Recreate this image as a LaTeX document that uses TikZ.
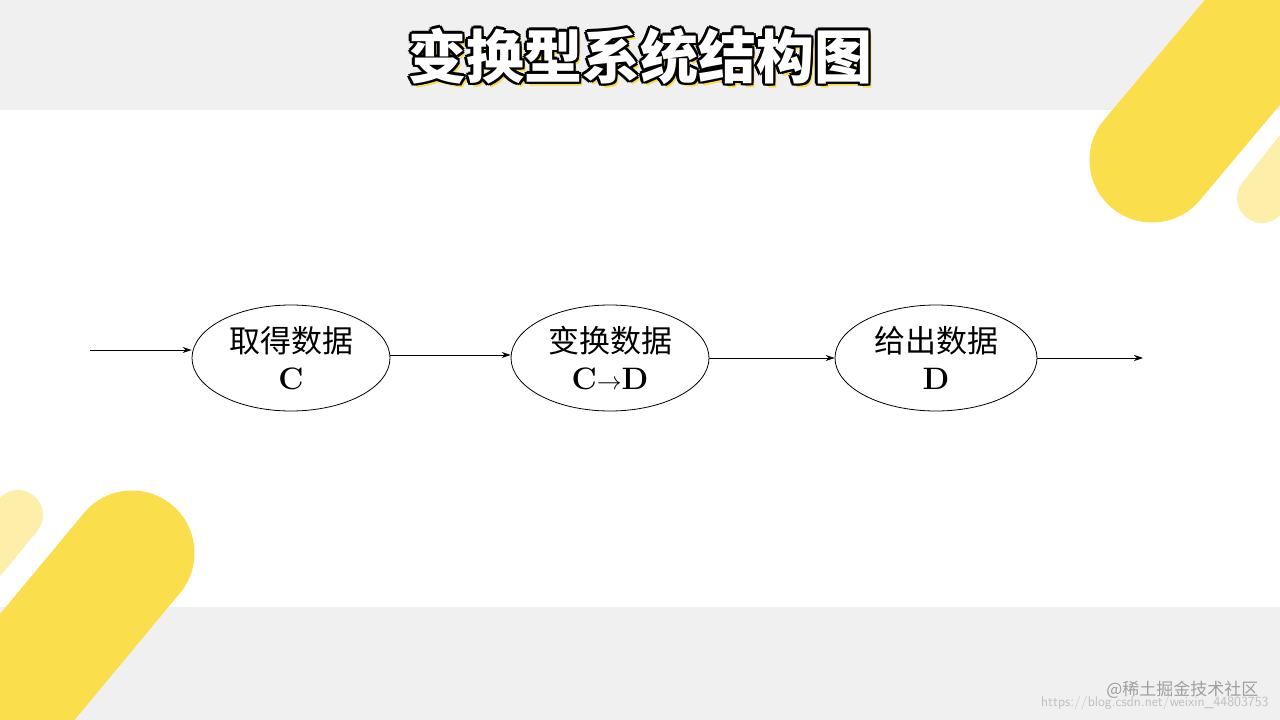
\documentclass[tikz,border=0pt]{standalone}
\usepackage{fontspec}
\newfontfamily\cjk{Noto Sans CJK SC}
\usetikzlibrary{arrows.meta, positioning, shapes.geometric}
\definecolor{band}{RGB}{240,240,240}
\definecolor{stripe}{RGB}{250,222,75}
\definecolor{stripelight}{RGB}{253,238,170}
\tikzset{
    stage/.style={ellipse, draw=black, thick, minimum width=198pt, minimum height=106pt, align=center, font=\fontsize{31}{37}\selectfont},
    arrow/.style={thick,-{Stealth[length=9pt,width=6pt]}},
    titletext/.style={font=\cjk\bfseries\fontsize{58}{62}\selectfont}
}
\begin{document}
\begin{tikzpicture}[x=1pt, y=-1pt]
    % Background
    \useasboundingbox (0,0) rectangle (1280,720);
    \fill[white] (0,0) rectangle (1280,720);
    \fill[band] (0,0) rectangle (1280,110);
    \fill[band] (0,607) rectangle (1280,720);

    % Decorative stripes
    \begin{scope}
        \clip (0,0) rectangle (1280,720);
        \draw[stripe, line width=125pt, line cap=round] (1152,160) -- (1320,-40);
        \draw[stripelight, line width=50pt, line cap=round] (1262,198) -- (1340,100);
        \draw[stripe, line width=125pt, line cap=round] (132,553) -- (-40,760);
        \draw[stripelight, line width=50pt, line cap=round] (18,515) -- (-60,610);
    \end{scope}

    % Title
    \node[titletext, text=stripe] (shadow) at (643,60) {变换型系统结构图};
    \foreach \dx/\dy in {-2.5/0,2.5/0,0/-2.5,0/2.5,-2/-2,2/2,-2/2,2/-2}
        \node[titletext, text=black] at (640+\dx,56+\dy) {变换型系统结构图};
    \node[titletext, text=white] (title) at (640,56) {变换型系统结构图};

    % Stages
    \node[stage] (get) at (291,358) {{\cjk 取得数据}\\\textbf{C}};
    \node[stage] (trans) at (610,358) {{\cjk 变换数据}\\\textbf{C}$\rightarrow$\textbf{D}};
    \node[stage, minimum width=202pt] (put) at (936,358) {{\cjk 给出数据}\\\textbf{D}};

    \coordinate (in) at (90,350);
    \coordinate (out) at (1143,358);

    % Arrows
    \draw[arrow] (in) -- (get.west |- in);
    \draw[arrow] (get.east |- 0,355) -- (trans.west |- 0,355);
    \draw[arrow] (trans) -- (put);
    \draw[arrow] (put) -- (out);

    % Watermark
    \node[font=\sffamily\fontsize{14}{16}\selectfont, text=gray!50, anchor=east] (url) at (1272,703) {https://blog.csdn.net/weixin\_44803753};
    \node[font=\cjk\fontsize{17}{20}\selectfont, text=gray!75, anchor=east] (mark) at (1262,690) {@稀土掘金技术社区};
\end{tikzpicture}
\end{document}
